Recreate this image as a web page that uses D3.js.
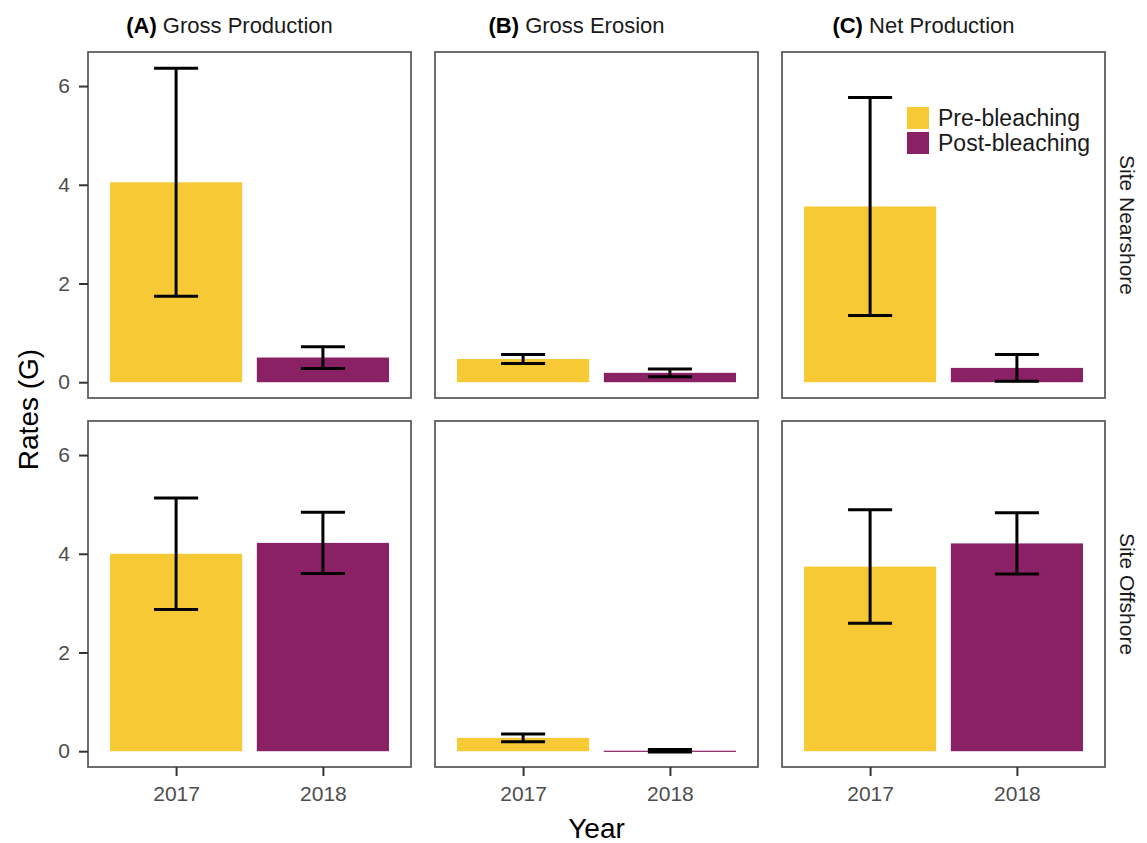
<!DOCTYPE html>
<html>
<head>
<meta charset="utf-8">
<script src="https://cdn.jsdelivr.net/npm/d3@7"></script>
<style>
  body { margin: 0; background: #fff; }
  text { font-family: "Liberation Sans", Arial, sans-serif; }
</style>
</head>
<body>
<div id="chart"></div>
<script>
// data (mean +/- error per metric, [2017, 2018])
const years = ['2017', '2018'];
const phases = ['Pre-bleaching', 'Post-bleaching'];
const metricTags = ['(A)', '(B)', '(C)'];
const metricNames = ['Gross Production', 'Gross Erosion', 'Net Production'];
const sites = ['Site Nearshore', 'Site Offshore'];
const yTicks = [0, 2, 4, 6];

const nearshoreMean = [[4.05, 0.50], [0.47, 0.19], [3.56, 0.29]];
const nearshoreErr  = [[2.31, 0.22], [0.09, 0.08], [2.21, 0.27]];
const offshoreMean  = [[4.00, 4.22], [0.27, 0.01], [3.74, 4.21]];
const offshoreErr   = [[1.13, 0.62], [0.08, 0.025], [1.15, 0.62]];

const colors = ['#F7C934', '#8A2165'];

const W = 1147, H = 843;
const panelLeft = 88, panelW = 323, gapX = 24;
const panelTop = 52, panelH = 346, gapY = 23;

const svg = d3.select('#chart').append('svg')
  .attr('width', W)
  .attr('height', H);

const rows = [
  { site: sites[0], mean: nearshoreMean, err: nearshoreErr },
  { site: sites[1], mean: offshoreMean, err: offshoreErr }
];

// y scale shared by all panels (ggplot-style 5% expansion)
const y = d3.scaleLinear().domain([-0.32, 6.69]);
// discrete x with 0.6 expansion on each side
const xPos = d3.scaleLinear().domain([0.4, 2.6]).range([0, panelW]);

rows.forEach((row, ri) => {
  const top = panelTop + ri * (panelH + gapY);
  y.range([top + panelH, top]);

  metricNames.forEach((m, ci) => {
    const left = panelLeft + ci * (panelW + gapX);
    const g = svg.append('g').attr('transform', `translate(${left},0)`);

    const bars = years.map((yr, i) => ({
      year: yr, i: i + 1, mean: row.mean[ci][i], err: row.err[ci][i]
    }));

    g.selectAll('rect.bar').data(bars).enter().append('rect')
      .attr('class', 'bar')
      .attr('x', d => xPos(d.i - 0.45))
      .attr('width', xPos(1.9) - xPos(1))
      .attr('y', d => Math.min(y(d.mean), y(0)))
      .attr('height', d => Math.max(Math.abs(y(0) - y(d.mean)), 1.2))
      .attr('fill', (d, i) => colors[i]);

    // error bars
    const eb = g.selectAll('g.eb').data(bars).enter().append('g')
      .attr('class', 'eb')
      .attr('stroke', '#000')
      .attr('stroke-width', 3);
    eb.append('line')
      .attr('x1', d => xPos(d.i)).attr('x2', d => xPos(d.i))
      .attr('y1', d => y(d.mean + d.err)).attr('y2', d => y(d.mean - d.err));
    eb.append('line')
      .attr('x1', d => xPos(d.i - 0.15)).attr('x2', d => xPos(d.i + 0.15))
      .attr('y1', d => y(d.mean + d.err)).attr('y2', d => y(d.mean + d.err));
    eb.append('line')
      .attr('x1', d => xPos(d.i - 0.15)).attr('x2', d => xPos(d.i + 0.15))
      .attr('y1', d => y(d.mean - d.err)).attr('y2', d => y(d.mean - d.err));

    // panel border
    g.append('rect')
      .attr('x', 0).attr('y', top)
      .attr('width', panelW).attr('height', panelH)
      .attr('fill', 'none')
      .attr('stroke', '#5e5e5e')
      .attr('stroke-width', 1.8);

    // y axis on first column
    if (ci === 0) {
      const ya = g.append('g').call(d3.axisLeft(y).tickValues(yTicks)
        .tickFormat(d3.format('d')).tickSize(9).tickPadding(9));
      ya.select('.domain').remove();
      ya.selectAll('line').attr('stroke', '#333').attr('stroke-width', 2);
      ya.selectAll('text').attr('fill', '#4d4d4d').style('font-size', '21px');
    }

    // x axis on bottom row
    if (ri === rows.length - 1) {
      const xa = g.append('g').attr('transform', `translate(0,${top + panelH})`)
        .call(d3.axisBottom(xPos).tickValues([1, 2]).tickFormat((d, i) => years[i])
          .tickSize(9).tickPadding(10));
      xa.select('.domain').remove();
      xa.selectAll('line').attr('stroke', '#333').attr('stroke-width', 2);
      xa.selectAll('text').attr('fill', '#4d4d4d').style('font-size', '21px');
    }

    // column strip titles
    if (ri === 0) {
      const t = g.append('text')
        .attr('x', panelW / 2 - 20)
        .attr('y', 33)
        .attr('text-anchor', 'middle')
        .style('font-size', '22px')
        .attr('fill', '#1a1a1a');
      t.append('tspan').attr('font-weight', 'bold').attr('fill', '#000').text(metricTags[ci]);
      t.append('tspan').text(' ' + m);
    }
  });

  // row strip labels
  svg.append('text')
    .attr('transform', `translate(1120,${top + panelH / 2}) rotate(90)`)
    .attr('text-anchor', 'middle')
    .style('font-size', '21px')
    .attr('fill', '#1a1a1a')
    .text(row.site);
});

// legend inside panel C, top row
const legendX = panelLeft + 2 * (panelW + gapX) + 125;
const legend = svg.append('g').attr('transform', `translate(${legendX},107)`);
phases.forEach((p, i) => {
  legend.append('rect')
    .attr('x', 0).attr('y', i * 25)
    .attr('width', 22).attr('height', 22)
    .attr('fill', colors[i]);
  legend.append('text')
    .attr('x', 31).attr('y', i * 25 + 19)
    .style('font-size', '23px')
    .attr('fill', '#1a1a1a')
    .text(p);
});

// axis titles
svg.append('text')
  .attr('transform', `translate(38,${panelTop + panelH + gapY / 2}) rotate(-90)`)
  .attr('text-anchor', 'middle')
  .style('font-size', '28px')
  .attr('fill', '#000')
  .text('Rates (G)');

svg.append('text')
  .attr('x', panelLeft + (3 * panelW + 2 * gapX) / 2)
  .attr('y', 838)
  .attr('text-anchor', 'middle')
  .style('font-size', '28px')
  .attr('fill', '#000')
  .text('Year');
</script>
</body>
</html>
